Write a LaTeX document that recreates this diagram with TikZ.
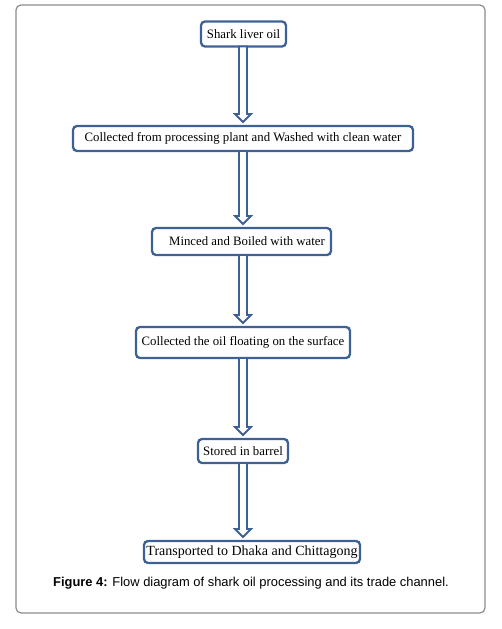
\documentclass[tikz,border=0pt]{standalone}
\usepackage{fontspec}
\setmainfont{Liberation Serif}
\newfontfamily\capfont{Liberation Sans}
\usetikzlibrary{calc}
\definecolor{boxblue}{HTML}{3D6194}
\definecolor{framegray}{HTML}{8C8C8C}
\tikzset{
  stepbox/.style={draw=boxblue, line width=2.3pt, rounded corners=4pt, fill=white,
    inner sep=1pt, outer sep=0pt, font=\fontsize{12.8}{14}\selectfont, text=black},
  blockarr/.style={draw=boxblue, line width=1.8pt, fill=white, line join=miter},
}
\newcommand{\blockarrow}[2]{%
  \draw[blockarr] let \p1=(#1.south), \p2=($(#2.north)+(0,-4)$) in
    (243pt,\y1) -- (243pt-4pt,\y1) -- (243pt-4pt,\y2+8pt) -- (243pt-8pt,\y2+8pt)
    -- (243pt,\y2) -- (243pt+8pt,\y2+8pt) -- (243pt+4pt,\y2+8pt) -- (243pt+4pt,\y1) -- cycle;}
\begin{document}
\begin{tikzpicture}[x=1pt,y=-1pt]
\useasboundingbox (0,0) rectangle (501,629);
\draw[framegray, line width=1.2pt, rounded corners=5pt] (16,5) rectangle (485,613);

\node[stepbox, minimum width=85pt, minimum height=25pt] (b1) at (243.5,34) {Shark liver oil};
\node[stepbox, minimum width=340pt, minimum height=25pt] (b2) at (243,138.5) {Collected from processing plant and Washed with clean water};
\node[stepbox, minimum width=179pt, minimum height=27pt] (b3) at (241.5,241.5) {\hspace{11pt}Minced and Boiled with water};
\node[stepbox, minimum width=214pt, minimum height=31pt] (b4) at (243,342.5) {Collected the oil floating on the surface};
\node[stepbox, minimum width=90pt, minimum height=24pt] (b5) at (243,451) {Stored in barrel};
\node[stepbox, minimum width=216pt, minimum height=22pt, font=\fontsize{14}{16}\selectfont] (b6) at (252,552) {Transported to Dhaka and Chittagong};

\blockarrow{b1}{b2}
\blockarrow{b2}{b3}
\blockarrow{b3}{b4}
\blockarrow{b4}{b5}
\blockarrow{b5}{b6}

\node[font=\capfont\fontsize{12.9}{15}\selectfont, inner sep=0pt] (cap) at (251,583)
  {\textbf{Figure 4:} Flow diagram of shark oil processing and its trade channel.};
\end{tikzpicture}
\end{document}
